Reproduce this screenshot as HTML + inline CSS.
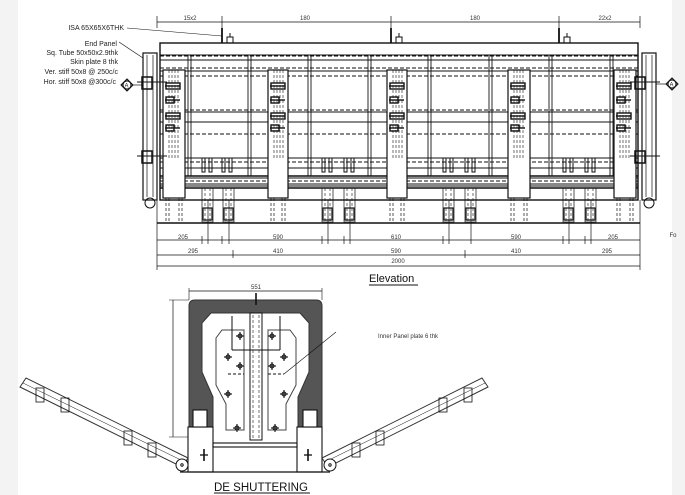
<!DOCTYPE html>
<html><head><meta charset="utf-8"><style>
html,body{margin:0;padding:0;background:#fff;}
svg{display:block;font-family:"Liberation Sans",sans-serif;}
</style></head><body>
<svg id="s" width="685" height="495" viewBox="0 0 685 495" xmlns="http://www.w3.org/2000/svg">
<rect x="0" y="0" width="685" height="495" fill="#fff"/>
<rect x="0" y="0" width="18" height="495" fill="#f3f3f3"/>
<rect x="672" y="0" width="13" height="495" fill="#f3f3f3"/>
<g id="g" stroke="#111" fill="none" stroke-width="1"></g>
<g fill="#222" font-size="7" text-anchor="end">
<text x="124" y="30">ISA 65X65X6THK</text>
<text x="117" y="46">End Panel</text>
<text x="118" y="55">Sq. Tube 50x50x2.9thk</text>
<text x="118" y="64">Skin plate 8 thk</text>
<text x="118" y="74">Ver. stiff 50x8 @ 250c/c</text>
<text x="116" y="84">Hor. stiff 50x8 @300c/c</text>
</g>
<g fill="#333" font-size="6" text-anchor="middle">
<text x="190" y="20">15x2</text><text x="305" y="20">180</text><text x="475" y="20">180</text><text x="605" y="20">22x2</text>
<text x="183" y="239">205</text><text x="278" y="239">590</text><text x="396" y="239">610</text><text x="516" y="239">590</text><text x="613" y="239">205</text>
<text x="193" y="253">295</text><text x="278" y="253">410</text><text x="396" y="253">590</text><text x="516" y="253">410</text><text x="607" y="253">295</text>
<text x="398" y="263">2000</text>
<text x="673" y="237">Fo</text>
<text x="256" y="289">551</text>
<text x="378" y="338" text-anchor="start">Inner Panel plate 6 thk</text>
</g>
<text x="369" y="282" font-size="11" fill="#111">Elevation</text>
<line x1="369" y1="285" x2="418" y2="285" stroke="#111" stroke-width="0.9"/>
<text x="214" y="491" font-size="11.5" fill="#111">DE SHUTTERING</text>
<line x1="214" y1="493" x2="310" y2="493" stroke="#111" stroke-width="0.9"/>
</svg>
<script>
var g=document.getElementById('g'),NS='http://www.w3.org/2000/svg';
function el(t,a){var e=document.createElementNS(NS,t);for(var k in a)e.setAttribute(k,a[k]);g.appendChild(e);return e;}
function L(x1,y1,x2,y2,w,d,c){var a={x1:x1,y1:y1,x2:x2,y2:y2};if(w)a['stroke-width']=w;if(d)a['stroke-dasharray']=d;if(c)a.stroke=c;return el('line',a);}
function R(x,y,w,h,f,sw){var a={x:x,y:y,width:w,height:h};if(f)a.fill=f;if(sw)a['stroke-width']=sw;return el('rect',a);}
function C(x,y,r,f){return el('circle',{cx:x,cy:y,r:r,fill:f||'none'});}
L(157,22,640,22,0.7);[157,222,391,559,640].forEach(function(x){L(x,16,x,28,0.7)});
[222,391,559].forEach(function(x){L(x,28,x,43,1.8);R(x+5,37,6,6);L(x+8,33,x+8,37)});
R(160,43,478,157,null,1.4);
[[55,0],[60,0],[56,'4,2'],[68,'4,2'],[71,0],[76,'4,2'],[110,'4,2'],[112,0],[122,0],[134,'4,2'],[158,0],[162,'4,2'],[168,0],[176,1],[178,0],[181,'4,2'],[184,0],[186,0],[188,1]].forEach(function(r){L(160,r[0],638,r[0],r[1]===1?1.6:0.9,r[1]&&r[1]!==1?r[1]:null)});
[188,248,308,368,428,489,549,610].forEach(function(x){L(x,55,x,176,0.9);L(x+3,55,x+3,176,0.9)});
[[163,185],[268,288],[387,407],[508,530],[614,636]].forEach(function(c){
 var a=c[0],b=c[1];R(a,70,b-a,128,'#fff',1.2);
 L(a+6,70,a+6,160,0.6,'3,2');L(a+9,70,a+9,160,0.6,'3,2');L(a+12,70,a+12,160,0.6,'3,2');L(a+15,70,a+15,160,0.6,'3,2');
 [86,100,116,128].forEach(function(y,i){R(a+3,y-3,i%2?8:14,6,null,1.4);L(a+2,y,a+17,y,1.4)});
 L(a+3,198,a+3,222,0.7,'3,2');L(a+6,198,a+6,222,0.7,'3,2');L(b-3,198,b-3,222,0.7,'3,2');L(b-6,198,b-6,222,0.7,'3,2');
});
[202,222,322,344,443,465,563,585].forEach(function(x){R(x,158,3,14);R(x+7,158,3,14)});
[202,223,322,344,443,465,563,585].forEach(function(x){R(x,188,11,34,null,0.7);L(x+3,188,x+3,222,0.6,'3,2');L(x+8,188,x+8,222,0.6,'3,2');R(x+1,208,9,12,null,1.2);L(x+6,200,x+6,244,0.7)});
R(143,53,14,147,null,1.2);L(147,55,147,197,0.7);L(153,55,153,197,0.7);C(150,203,5);
R(642,53,14,147,null,1.2);L(646,55,646,197,0.7);L(652,55,652,197,0.7);C(649,203,5);
[[137,82],[137,156],[630,82],[630,156]].forEach(function(p){R(p[0]+5,p[1]-5,10,12,null,1.5);L(p[0],p[1],p[0]+30,p[1],0.9)});
[[127,85],[672,84]].forEach(function(p){el('polygon',{points:(p[0]-6)+','+p[1]+' '+p[0]+','+(p[1]-6)+' '+(p[0]+6)+','+p[1]+' '+p[0]+','+(p[1]+6),fill:'#999'});C(p[0],p[1],4,'#fff');var t=document.createElementNS(NS,'text');t.setAttribute('x',p[0]-2.5);t.setAttribute('y',p[1]+2.5);t.setAttribute('font-size','6');t.setAttribute('stroke','none');t.setAttribute('fill','#222');t.textContent='A';g.appendChild(t);});
L(133,85,143,85,0.7);L(656,84,666,84,0.7);
L(127,28,222,36,0.6);L(119,42,143,58,0.6);
L(157,223,640,223,1.4);L(157,200,157,270,0.7);L(640,200,640,270,0.7);
[240,255,266].forEach(function(y){L(157,y,640,y,0.7)});
[222,344,563,202,322,443,585].forEach(function(x){L(x,236,x,244,0.7)});
[233,465].forEach(function(x){L(x,250,x,258,0.7)});
el('path',{d:'M189 306 Q189 300 195 300 L316 300 Q322 300 322 306 L322 430 L298 430 L298 397 L309 372 L309 323 L300 313 L211 313 L202 323 L202 372 L213 397 L213 430 L189 430 Z',fill:'#555',stroke:'#333'});
L(189,291,322,291,0.7);L(189,288,189,300,0.6);L(322,288,322,300,0.6);L(256,293,256,305,1.6);
L(173,300,173,437,0.7);L(169,300,189,300,0.6);L(169,437,189,437,0.6);
R(250,313,12,127,'#fff',1);L(253,315,253,440,0.6,'3,2');L(259,315,259,440,0.6,'3,2');
el('path',{d:'M244 330 L222 330 L216 338 L216 385 L226 404 L226 430 L244 430 Z',fill:'#fff',stroke:'#444'});
el('path',{d:'M268 330 L290 330 L296 338 L296 385 L286 404 L286 430 L268 430 Z',fill:'#fff',stroke:'#444'});
L(232,316,232,350);L(280,316,280,350);L(232,350,280,350);L(228,374,244,374,0.9,'3,2');L(268,374,284,374,0.9,'3,2');
[[240,336],[272,336],[228,357],[284,357],[240,366],[272,366],[228,394],[284,394],[237,428],[275,428]].forEach(function(p){L(p[0]-4,p[1],p[0]+4,p[1],1.1);L(p[0],p[1]-4,p[0],p[1]+4,1.1);C(p[0],p[1],2)});
L(284,374,336,332,0.6);
R(188,427,25,45,'#fff',1.1);R(297,427,25,45,'#fff',1.1);R(213,443,84,4,'#fff',1.1);
R(193,410,14,17,'#fff',1.1);R(303,410,14,17,'#fff',1.1);
L(200,455,208,455,1.3);L(204,449,204,461,1.6);L(304,455,312,455,1.3);L(308,449,308,461,1.6);
L(180,472,330,472,1.3);
el('polygon',{points:'20,387 26,378 188,458 182,467',fill:'#fff',stroke:'#333'});
el('polygon',{points:'488,387 482,378 322,458 328,467',fill:'#fff',stroke:'#333'});
L(23,383,185,462,0.5);L(485,383,325,462,0.5);
[[40,395],[65,405],[128,438],[152,450]].forEach(function(p){R(p[0]-4,p[1]-7,8,14,null,0.8)});
[[468,395],[443,405],[380,438],[356,450]].forEach(function(p){R(p[0]-4,p[1]-7,8,14,null,0.8)});
C(182,465,6,'#fff');C(330,465,6,'#fff');C(182,465,1.2);C(330,465,1.2);
</script>
</body></html>
